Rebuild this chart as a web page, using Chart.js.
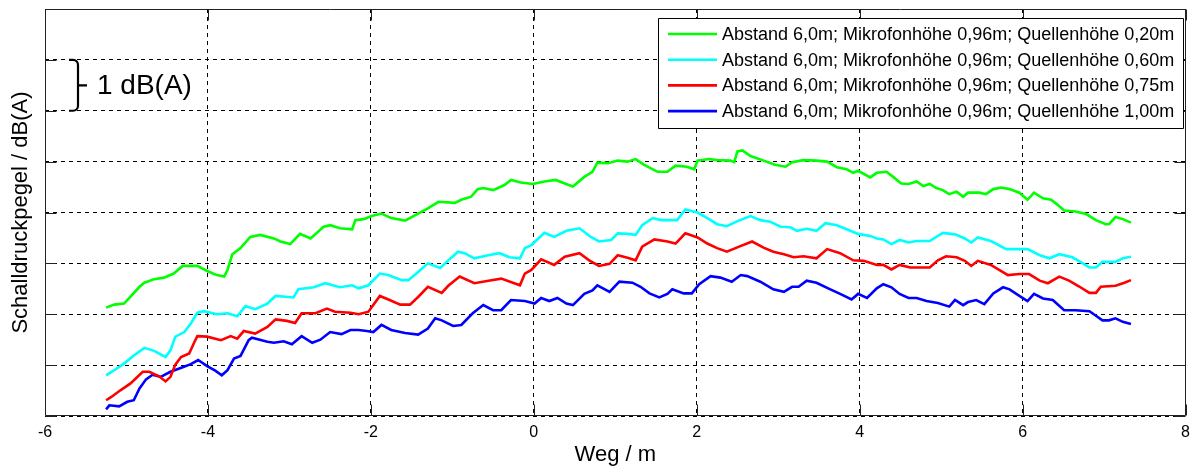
<!DOCTYPE html>
<html>
<head>
<meta charset="utf-8">
<script src="https://cdn.jsdelivr.net/npm/chart.js@4/dist/chart.umd.min.js"></script>
<style>
  html, body { margin: 0; padding: 0; background: #fff; }
  #wrap { width: 1197px; height: 466px; }
</style>
</head>
<body>
<div id="wrap"><canvas id="c" width="1197" height="466"></canvas></div>
<script>
// Weg / m (x) and relative Schalldruckpegel / dB(A) (y) per measurement
const seriesLabels = [
  'Abstand 6,0m; Mikrofonhöhe 0,96m; Quellenhöhe 0,20m',
  'Abstand 6,0m; Mikrofonhöhe 0,96m; Quellenhöhe 0,60m',
  'Abstand 6,0m; Mikrofonhöhe 0,96m; Quellenhöhe 0,75m',
  'Abstand 6,0m; Mikrofonhöhe 0,96m; Quellenhöhe 1,00m'
];
const seriesColors = ['#00ff00', '#00ffff', '#ff0000', '#0000ff'];

const xTicks = [-6, -4, -2, 0, 2, 4, 6, 8];

const q020X = [-5.25,-5.15,-5.03,-4.97,-4.84,-4.78,-4.66,-4.54,-4.42,-4.31,-4.13,-4.01,-3.89,-3.80,-3.76,-3.70,-3.60,-3.48,-3.36,-3.19,-3.11,-2.99,-2.87,-2.74,-2.58,-2.50,-2.38,-2.23,-2.19,-2.09,
  -1.99,-1.87,-1.75,-1.58,-1.42,-1.30,-1.17,-0.97,-0.89,-0.77,-0.69,-0.62,-0.50,-0.36,-0.28,-0.16,-0.01,0.13,0.27,0.38,0.48,0.62,0.72,0.78,0.91,1.03,1.15,
  1.25,1.35,1.52,1.64,1.74,1.88,1.97,2.01,2.15,2.25,2.41,2.46,2.50,2.56,2.66,2.82,2.96,3.09,3.17,3.31,3.47,3.60,3.72,3.84,3.92,3.98,4.13,4.21,
  4.33,4.41,4.51,4.60,4.70,4.78,4.86,4.94,5.02,5.10,5.19,5.27,5.33,5.47,5.55,5.64,5.74,5.84,5.96,6.06,6.14,6.25,6.35,6.43,6.51,6.65,6.78,6.90,7.02,7.06,7.14,7.23,7.33];
const q020Y = [2.13,2.19,2.21,2.31,2.54,2.62,2.69,2.72,2.80,2.95,2.95,2.85,2.77,2.74,2.87,3.18,3.30,3.52,3.56,3.49,3.43,3.38,3.58,3.49,3.72,3.75,3.69,3.67,3.85,3.87,
  3.93,3.98,3.89,3.84,3.98,4.08,4.21,4.19,4.25,4.31,4.46,4.48,4.44,4.54,4.64,4.59,4.56,4.61,4.64,4.57,4.51,4.70,4.80,4.98,4.97,5.02,5.00,
  5.05,4.94,4.80,4.80,4.92,4.90,4.85,5.02,5.05,5.03,5.02,4.99,5.20,5.22,5.11,5.02,4.94,4.90,4.99,5.03,5.02,5.00,4.89,4.85,4.78,4.82,4.69,4.78,
  4.80,4.70,4.57,4.56,4.61,4.52,4.56,4.48,4.44,4.36,4.41,4.31,4.39,4.39,4.36,4.46,4.49,4.46,4.39,4.25,4.39,4.28,4.25,4.15,4.04,4.02,3.97,3.85,3.77,3.77,3.91,3.87,3.80];

const q060X = [-5.25,-5.15,-5.03,-4.91,-4.78,-4.66,-4.52,-4.46,-4.40,-4.29,-4.21,-4.13,-4.05,-3.89,-3.76,-3.64,-3.54,-3.42,-3.27,-3.17,-2.95,-2.89,-2.70,-2.56,-2.38,-2.23,
  -2.15,-2.03,-1.89,-1.79,-1.62,-1.54,-1.42,-1.30,-1.15,-1.07,-0.93,-0.85,-0.73,-0.56,-0.42,-0.30,-0.17,-0.11,-0.03,0.13,0.25,0.40,0.56,0.70,0.80,0.95,1.03,1.15,
  1.25,1.33,1.46,1.56,1.76,1.86,2.01,2.13,2.25,2.37,2.50,2.66,2.78,2.90,3.03,3.15,3.23,3.35,3.47,3.58,3.72,3.84,3.98,4.13,
  4.21,4.29,4.39,4.49,4.60,4.70,4.86,5.02,5.17,5.29,5.37,5.45,5.61,5.80,5.96,6.06,6.21,6.33,6.45,6.61,6.74,6.82,6.90,6.98,7.14,7.23,7.33];
const q060Y = [0.80,0.90,1.03,1.19,1.34,1.28,1.16,1.29,1.56,1.65,1.82,2.03,2.06,2.00,2.02,1.96,2.16,2.10,2.21,2.36,2.33,2.49,2.53,2.61,2.53,2.57,
  2.51,2.57,2.80,2.77,2.67,2.67,2.83,3.00,2.91,3.03,3.23,3.20,3.10,3.16,3.20,3.12,3.10,3.30,3.36,3.60,3.52,3.64,3.69,3.52,3.43,3.46,3.59,3.58,
  3.56,3.75,3.89,3.85,3.85,4.06,4.00,3.89,3.77,3.73,3.83,3.93,3.85,3.82,3.72,3.71,3.64,3.68,3.64,3.79,3.75,3.67,3.58,3.54,
  3.49,3.47,3.38,3.46,3.41,3.44,3.44,3.60,3.57,3.49,3.41,3.51,3.44,3.28,3.28,3.28,3.16,3.10,3.18,3.12,3.00,2.92,2.92,3.03,3.03,3.10,3.13];

const q075X = [-5.25,-5.19,-5.07,-4.95,-4.80,-4.72,-4.60,-4.52,-4.46,-4.40,-4.33,-4.23,-4.17,-4.13,-4.01,-3.84,-3.72,-3.64,-3.56,-3.42,-3.27,-3.17,-3.03,-2.93,-2.85,-2.68,-2.54,-2.44,-2.25,
  -2.15,-2.03,-1.89,-1.77,-1.64,-1.52,-1.42,-1.30,-1.13,-1.05,-0.91,-0.73,-0.52,-0.40,-0.24,-0.17,-0.11,-0.03,0.09,0.25,0.38,0.56,0.68,0.80,0.93,1.03,1.15,
  1.25,1.33,1.48,1.64,1.74,1.86,2.01,2.13,2.25,2.37,2.52,2.68,2.82,2.94,3.07,3.19,3.31,3.47,3.60,3.76,3.92,4.05,4.21,
  4.29,4.39,4.49,4.62,4.86,4.96,5.06,5.19,5.29,5.37,5.45,5.61,5.82,5.96,6.08,6.21,6.31,6.45,6.57,6.69,6.82,6.90,6.96,7.14,7.25,7.33];
const q075Y = [0.31,0.37,0.51,0.64,0.87,0.87,0.78,0.68,0.77,1.01,1.16,1.23,1.44,1.57,1.56,1.49,1.57,1.52,1.67,1.62,1.75,1.90,1.87,1.83,2.02,2.02,2.11,2.05,2.03,
  2.00,2.05,2.36,2.28,2.19,2.19,2.34,2.54,2.42,2.56,2.74,2.61,2.67,2.70,2.61,2.57,2.80,2.87,3.08,2.97,3.13,3.20,3.06,2.95,2.99,3.16,3.11,
  3.06,3.33,3.47,3.43,3.39,3.59,3.51,3.39,3.30,3.23,3.33,3.43,3.31,3.23,3.18,3.12,3.14,3.10,3.28,3.20,3.06,3.05,2.97,
  2.97,2.88,2.97,2.92,2.92,3.06,3.14,3.12,3.05,2.95,3.05,2.97,2.77,2.79,2.79,2.66,2.61,2.74,2.66,2.55,2.42,2.42,2.54,2.56,2.62,2.67];

const q100X = [-5.25,-5.21,-5.09,-4.99,-4.91,-4.84,-4.76,-4.68,-4.58,-4.46,-4.31,-4.21,-4.12,-4.01,-3.91,-3.83,-3.76,-3.68,-3.60,-3.50,-3.46,-3.27,-3.19,-3.07,-2.97,-2.85,-2.72,-2.62,-2.50,-2.36,-2.25,
  -2.15,-2.05,-1.97,-1.87,-1.75,-1.58,-1.42,-1.30,-1.21,-1.13,-0.99,-0.89,-0.75,-0.62,-0.50,-0.40,-0.28,-0.11,0.01,0.09,0.19,0.29,0.40,0.48,0.62,0.72,0.78,0.93,1.05,
  1.21,1.31,1.42,1.54,1.64,1.70,1.84,1.94,2.03,2.17,2.29,2.43,2.54,2.62,2.78,2.94,3.07,3.17,3.25,3.35,3.47,3.64,3.76,3.90,3.98,4.09,
  4.21,4.29,4.39,4.49,4.60,4.70,4.82,4.96,5.10,5.17,5.27,5.33,5.43,5.53,5.64,5.76,5.84,5.96,6.06,6.14,6.25,6.37,6.51,6.65,6.82,6.90,6.98,7.06,7.14,7.23,7.33];
const q100Y = [0.13,0.21,0.19,0.28,0.31,0.54,0.72,0.81,0.77,0.87,0.96,1.02,1.10,0.98,0.89,0.80,0.90,1.13,1.18,1.49,1.54,1.46,1.44,1.47,1.41,1.57,1.44,1.50,1.65,1.61,1.69,
  1.69,1.67,1.65,1.79,1.69,1.63,1.60,1.72,1.92,1.88,1.77,1.79,2.02,2.18,2.08,2.08,2.28,2.26,2.21,2.32,2.26,2.32,2.21,2.18,2.40,2.47,2.57,2.44,2.64,
  2.62,2.54,2.41,2.33,2.40,2.49,2.41,2.41,2.59,2.75,2.72,2.64,2.77,2.75,2.64,2.49,2.44,2.54,2.54,2.66,2.62,2.49,2.40,2.29,2.40,2.32,
  2.51,2.59,2.53,2.40,2.32,2.32,2.26,2.22,2.15,2.28,2.18,2.24,2.28,2.20,2.41,2.53,2.49,2.36,2.26,2.40,2.31,2.28,2.08,2.08,2.06,1.97,1.88,1.88,1.92,1.85,1.81];

// Bracket annotation: spans one grid interval (1 dB)
const bracketFrom = 6;
const bracketTo = 7;
const bracketText = '1 dB(A)';

const FONT = "'Liberation Sans', Arial, sans-serif";
const TICK_FONT = "'Liberation Sans Narrow', 'Arial Narrow', 'Liberation Sans', Arial, sans-serif";

function zipPoints(xs, ys) { return xs.map((x, i) => ({ x: x, y: ys[i] })); }

const seriesX = [q020X, q060X, q075X, q100X];
const seriesY = [q020Y, q060Y, q075Y, q100Y];

const datasets = seriesLabels.map((label, i) => ({
  label: label,
  data: zipPoints(seriesX[i], seriesY[i]),
  borderColor: seriesColors[i],
  backgroundColor: seriesColors[i],
  borderWidth: 2.6,
  pointRadius: 0,
  tension: 0,
  fill: false
}));

// Axes frame with inward tick marks, brace annotation and boxed legend
const framePlugin = {
  id: 'frame',
  afterDatasetsDraw(chart) {
    const { ctx, chartArea: a, scales: { x, y } } = chart;
    ctx.save();
    ctx.strokeStyle = '#222';
    ctx.lineWidth = 1;
    ctx.setLineDash([]);
    ctx.beginPath();
    const L = Math.round(a.left) + 0.5, R = Math.round(a.right) - 0.5;
    const T = Math.round(a.top) + 0.5, B = Math.round(a.bottom) - 0.5;
    ctx.rect(L, T, R - L, B - T);
    const tl = 11;
    xTicks.forEach(v => {
      const px = Math.round(x.getPixelForValue(v)) + 0.5;
      ctx.moveTo(px, B); ctx.lineTo(px, B - tl);
      ctx.moveTo(px, T); ctx.lineTo(px, T + tl);
    });
    for (let v = 0; v <= 8; v++) {
      const py = Math.round(y.getPixelForValue(v)) + 0.5;
      ctx.moveTo(L, py); ctx.lineTo(L + tl, py);
      ctx.moveTo(R, py); ctx.lineTo(R - tl, py);
    }
    ctx.stroke();

    // brace "}" marking 1 dB(A)
    const yTop = y.getPixelForValue(bracketTo);
    const yBot = y.getPixelForValue(bracketFrom);
    const yMid = (yTop + yBot) / 2;
    const bx = a.left + 33, hx = a.left + 24, r = 5;
    ctx.strokeStyle = '#000';
    ctx.lineWidth = 2.2;
    ctx.lineJoin = 'round';
    ctx.beginPath();
    ctx.moveTo(hx, yTop);
    ctx.arcTo(bx, yTop, bx, yTop + r, r);
    ctx.lineTo(bx, yBot - r);
    ctx.arcTo(bx, yBot, hx, yBot, r);
    ctx.lineTo(hx, yBot);
    ctx.moveTo(bx, yMid);
    ctx.lineTo(bx + 9, yMid);
    ctx.stroke();
    ctx.fillStyle = '#000';
    ctx.font = '28px ' + FONT;
    ctx.textBaseline = 'middle';
    ctx.textAlign = 'left';
    ctx.fillText(bracketText, bx + 19, yMid + 1);

    // legend box
    const lx = 658, ly = 18, lw = 525, lh = 110;
    ctx.fillStyle = '#fff';
    ctx.fillRect(lx, ly, lw, lh);
    ctx.lineWidth = 1;
    ctx.strokeStyle = '#000';
    ctx.strokeRect(lx + 0.5, ly + 0.5, lw, lh);
    ctx.font = '18px ' + FONT;
    seriesLabels.forEach((lab, i) => {
      const yy = ly + 16 + i * 25.7;
      ctx.strokeStyle = seriesColors[i];
      ctx.lineWidth = 2.6;
      ctx.beginPath();
      ctx.moveTo(lx + 10, yy);
      ctx.lineTo(lx + 59, yy);
      ctx.stroke();
      ctx.fillStyle = '#000';
      ctx.fillText(lab, lx + 64, yy + 1);
    });
    ctx.restore();
  }
};

new Chart(document.getElementById('c'), {
  type: 'line',
  data: { datasets: datasets },
  plugins: [framePlugin],
  options: {
    responsive: false,
    animation: false,
    layout: { padding: { top: 9, right: 7, left: 0, bottom: 0 } },
    plugins: { legend: { display: false }, tooltip: { enabled: false } },
    scales: {
      x: {
        type: 'linear',
        min: -6, max: 8,
        afterBuildTicks(s) { s.ticks = xTicks.map(v => ({ value: v })); },
        ticks: {
          color: '#000', padding: 7, maxRotation: 0, autoSkip: false,
          font: { family: TICK_FONT, size: 16 }
        },
        grid: { color: '#000', lineWidth: 1, drawTicks: false },
        border: { display: false, dash: [4, 4] },
        title: {
          display: true, text: 'Weg / m', color: '#000',
          font: { family: FONT, size: 22, lineHeight: 1 },
          padding: { top: 0, bottom: 0 }
        },
        afterFit(s) { s.height = 50; }
      },
      y: {
        min: 0, max: 8,
        ticks: { display: false, stepSize: 1 },
        grid: { color: '#000', lineWidth: 1, drawTicks: false },
        border: { display: false, dash: [4, 4] },
        title: {
          display: true, text: 'Schalldruckpegel / dB(A)', color: '#000',
          font: { family: FONT, size: 22, lineHeight: 1 },
          padding: { top: 10, bottom: 0 }
        },
        afterFit(s) { s.width = 45; }
      }
    }
  }
});
</script>
</body>
</html>
